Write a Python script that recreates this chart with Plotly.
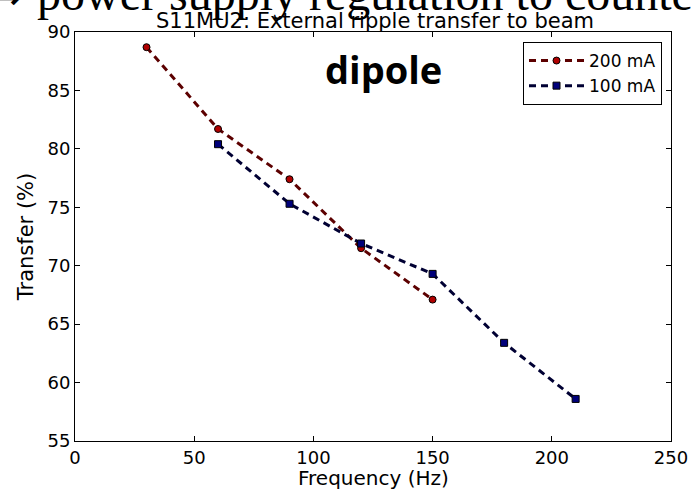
import plotly.graph_objects as go

# Data
freq_200 = [30, 60, 90, 120, 150]
transfer_200 = [88.7, 81.7, 77.4, 71.5, 67.1]
freq_100 = [60, 90, 120, 150, 180, 210]
transfer_100 = [80.4, 75.3, 71.9, 69.3, 63.4, 58.6]
series_names = ["200 mA", "100 mA"]
x_ticks = [0, 50, 100, 150, 200, 250]
y_ticks = [55, 60, 65, 70, 75, 80, 85, 90]

W, H = 691, 489
L, R, T, B = 75, 20, 32, 48
PW, PH = W - L - R, H - T - B


def px(xp):
    return (xp - L) / PW


def py(yp):
    return (H - B - yp) / PH


FONT = "DejaVu Sans"

fig = go.Figure()
fig.add_trace(go.Scatter(
    x=freq_200, y=transfer_200, name=series_names[0], mode="lines+markers",
    line=dict(color="#5c0000", width=3, dash="7px,5px"),
    marker=dict(symbol="circle", size=7, color="#b00000",
                line=dict(color="black", width=1)),
))
fig.add_trace(go.Scatter(
    x=freq_100, y=transfer_100, name=series_names[1], mode="lines+markers",
    line=dict(color="#000033", width=3, dash="7px,5px"),
    marker=dict(symbol="square", size=7, color="#00007a",
                line=dict(color="black", width=1)),
))

axis_common = dict(
    showline=True, linecolor="black", linewidth=1, mirror="ticks",
    ticks="inside", ticklen=5, tickwidth=1, tickcolor="black",
    showgrid=False, zeroline=False, automargin=False,
    tickfont=dict(family=FONT, size=18, color="black"),
)

fig.update_layout(
    width=W, height=H,
    margin=dict(l=L, r=R, t=T, b=B, pad=0),
    paper_bgcolor="white", plot_bgcolor="white",
    font=dict(family=FONT, color="black"),
    title=dict(text="S11MU2: External ripple transfer to beam",
               x=px(375), xref="paper", xanchor="center",
               y=1 - 21 / H, yref="container", yanchor="middle",
               font=dict(family=FONT, size=21, color="black")),
    xaxis=dict(range=[0, 250], tickvals=x_ticks, **axis_common),
    yaxis=dict(range=[55, 90], tickvals=y_ticks,
               title=dict(text="Transfer (%)", standoff=8,
                          font=dict(family=FONT, size=21, color="black")),
               **axis_common),
    legend=dict(x=px(662), y=py(42), xanchor="right", yanchor="top",
                bordercolor="black", borderwidth=1, bgcolor="white",
                font=dict(family=FONT, size=17, color="black"),
                itemwidth=55, tracegroupgap=0),
    showlegend=True,
)

# x-axis title placed explicitly below the tick labels
fig.add_annotation(text="Frequency (Hz)", x=px(373), y=py(478),
                   xref="paper", yref="paper", xanchor="center", yanchor="middle",
                   showarrow=False,
                   font=dict(family=FONT, size=20, color="black"))

fig.add_annotation(text="<b>dipole</b>", x=px(383), y=py(69),
                   xref="paper", yref="paper", xanchor="center", yanchor="middle",
                   showarrow=False,
                   font=dict(family="Open Sans", size=38, color="black"))

fig.add_annotation(text="power supply regulation to counter",
                   x=px(35), y=py(-6), xref="paper", yref="paper",
                   xanchor="left", yanchor="middle", showarrow=False,
                   font=dict(family="Liberation Serif", size=48, color="black"))
fig.add_annotation(text="\u21d2",
                   x=px(27), y=py(-6), xref="paper", yref="paper",
                   xanchor="right", yanchor="middle", showarrow=False,
                   font=dict(family="Liberation Serif", size=48, color="black"))

fig.write_html("out.html")
